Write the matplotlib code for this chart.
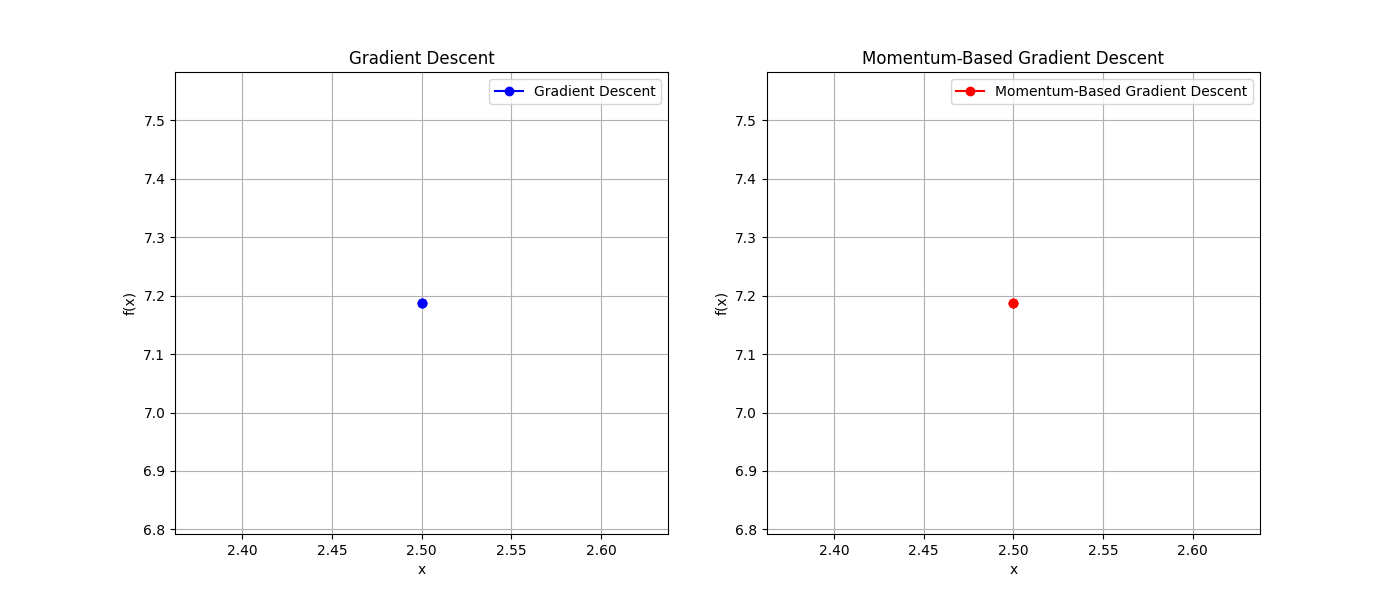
import matplotlib
matplotlib.use("Agg")
import matplotlib.pyplot as plt

# iterates (the run stays at the same point)
gd_x = [2.5, 2.5, 2.5]
gd_f = [7.1875, 7.1875, 7.1875]
mom_x = [2.5, 2.5, 2.5]
mom_f = [7.1875, 7.1875, 7.1875]

fig, (ax1, ax2) = plt.subplots(1, 2, figsize=(14, 6), dpi=100)

ax1.plot(gd_x, gd_f, "o-", color="blue", label="Gradient Descent")
ax1.set_title("Gradient Descent")
ax1.set_xlabel("x")
ax1.set_ylabel("f(x)")
ax1.legend()
ax1.grid(True)

ax2.plot(mom_x, mom_f, "o-", color="red", label="Momentum-Based Gradient Descent")
ax2.set_title("Momentum-Based Gradient Descent")
ax2.set_xlabel("x")
ax2.set_ylabel("f(x)")
ax2.legend()
ax2.grid(True)

fig.savefig("out.png")
